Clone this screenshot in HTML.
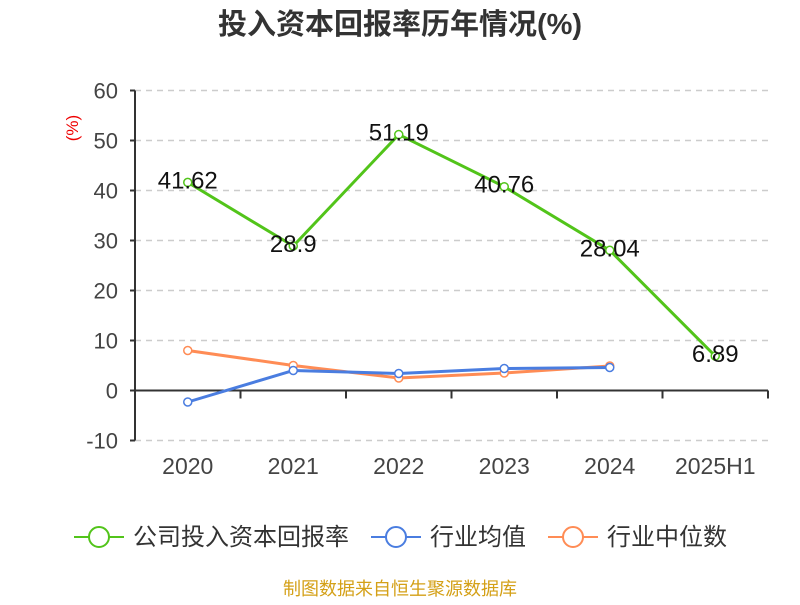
<!DOCTYPE html>
<html><head><meta charset="utf-8"><style>
body{margin:0;background:#fff;font-family:"Liberation Sans","Noto Sans CJK SC",sans-serif}
svg text{font-family:"Liberation Sans","Noto Sans CJK SC",sans-serif}
</style></head><body>
<svg width="800" height="600">
<text x="400" y="34" text-anchor="middle" font-size="29" font-weight="bold" fill="#333">投入资本回报率历年情况(%)</text>
<text x="78" y="128" font-size="17" fill="#e00" transform="rotate(-90 78 128)" text-anchor="middle">(%)</text>
<g id="grid"></g><g id="axes"></g><g id="series"></g>
<g>
<g><line x1="74" y1="537" x2="124" y2="537" stroke="#52c41a" stroke-width="2"/><circle cx="99" cy="537" r="10" fill="#fff" stroke="#52c41a" stroke-width="2"/><text x="133" y="545" font-size="24" fill="#333">公司投入资本回报率</text></g>
<g><line x1="371" y1="537" x2="421" y2="537" stroke="#4a7de0" stroke-width="2"/><circle cx="396" cy="537" r="10" fill="#fff" stroke="#4a7de0" stroke-width="2"/><text x="430" y="545" font-size="24" fill="#333">行业均值</text></g>
<g><line x1="548" y1="537" x2="598" y2="537" stroke="#ff8c55" stroke-width="2"/><circle cx="573" cy="537" r="10" fill="#fff" stroke="#ff8c55" stroke-width="2"/><text x="607" y="545" font-size="24" fill="#333">行业中位数</text></g>
</g>
<text x="400" y="595" text-anchor="middle" font-size="18" fill="#d4a017">制图数据来自恒生聚源数据库</text>
</svg>
<script>
const categories=["2020","2021","2022","2023","2024","2025H1"];
const company=[41.62,28.9,51.19,40.76,28.04,6.89];
const companyLabels=["41.62","28.9","51.19","40.76","28.04","6.89"];
const industryAvg=[-2.3,4.0,3.4,4.4,4.6];
const industryMedian=[8.0,5.0,2.5,3.5,4.9];
const yTicks=[60,50,40,30,20,10,0,-10];
const NS="http://www.w3.org/2000/svg";
const x0=135,x1=768,band=(x1-x0)/categories.length;
const X=i=>x0+band*(i+0.5);
const Y=v=>390.5-5*v;
function mk(tag,attrs,parent,txt){const e=document.createElementNS(NS,tag);for(const k in attrs)e.setAttribute(k,attrs[k]);if(txt!==undefined)e.textContent=txt;document.getElementById(parent).appendChild(e);return e;}
yTicks.forEach(t=>{
 if(t!==0){const g=mk('line',{x1:x0,x2:x1,y1:Y(t),y2:Y(t),stroke:'#ccc','stroke-dasharray':'6,5','stroke-width':1.5},'grid');
 
 }
 const l=mk('text',{x:118,y:Y(t)+8,'text-anchor':'end','font-size':22,fill:'#444'},'axes',String(t));
 
 
 mk('line',{x1:x0-5,x2:x0,y1:Y(t),y2:Y(t),stroke:'#333','stroke-width':2},'axes');
});
const ya=mk('line',{x1:x0,x2:x0,y1:Y(60),y2:Y(-10),stroke:'#333','stroke-width':2},'axes');


const xa=mk('line',{x1:x0,x2:x1,y1:Y(0),y2:Y(0),stroke:'#333','stroke-width':2},'axes');


categories.forEach((c,i)=>{
 mk('line',{x1:x0+band*(i+1),x2:x0+band*(i+1),y1:Y(0),y2:Y(0)+8,stroke:'#333','stroke-width':2},'axes');
 const t=mk('text',{x:X(i),y:474,'text-anchor':'middle','font-size':23,fill:'#444'},'axes',c);
 
 
});
function series(vals,color,name){
 const p=mk('polyline',{points:vals.map((v,i)=>X(i)+','+Y(v)).join(' '),fill:'none',stroke:color,'stroke-width':3},'series');
 
 
 vals.forEach((v,i)=>{const c=mk('circle',{cx:X(i),cy:Y(v),r:4,fill:'#fff',stroke:color,'stroke-width':1.5},'series');
 
 });
}
series(industryMedian,'#ff8c55','industry-median');
series(industryAvg,'#4a7de0','industry-avg');
series(company,'#52c41a','company');
company.forEach((v,i)=>{const t=mk('text',{x:X(i),y:Y(v)+6,'text-anchor':'middle','font-size':24,fill:'#111'},'series',companyLabels[i]);
 
 });
</script>
</body></html>
